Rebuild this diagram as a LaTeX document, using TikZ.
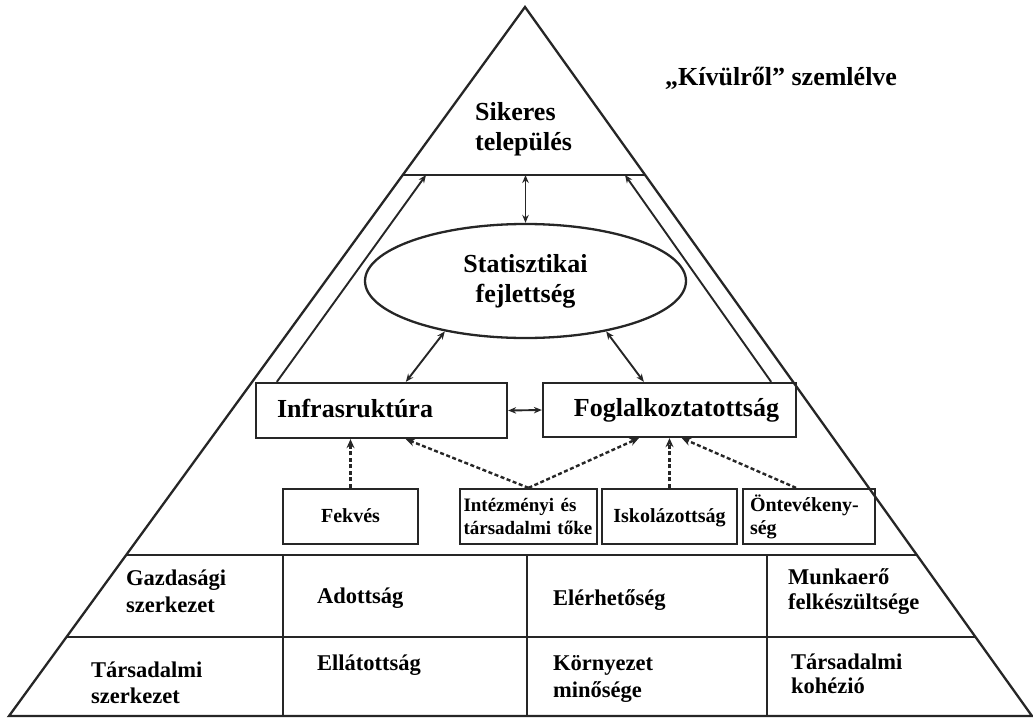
\documentclass[tikz,border=0pt]{standalone}
\usepackage{fontspec}
\setmainfont{Liberation Serif}
\usetikzlibrary{calc,arrows.meta,shapes.geometric}
\begin{document}
\begin{tikzpicture}[x=1pt,y=-1pt,
  ln/.style={draw=black!85,line width=2.3pt},
  box/.style={ln,rectangle,inner ysep=0pt,minimum height=55pt},
  bigf/.style={font=\fontsize{26}{30}\selectfont\bfseries},
  midf/.style={font=\fontsize{22.5}{27}\selectfont\bfseries},
  smlf/.style={font=\fontsize{20}{23}\selectfont\bfseries},
  lbl/.style={anchor=base west,inner sep=0pt},
  arr/.style={draw=black!85,line width=1.9pt,-{Stealth[length=8pt,width=6.5pt]}},
  darr/.style={arr,{Stealth[length=8pt,width=6.5pt]}-{Stealth[length=8pt,width=6.5pt]}},
  dsh/.style={draw=black!85,line width=2.4pt,dash pattern=on 4pt off 2.5pt,-{Stealth[length=9pt,width=8pt]}}
]
\useasboundingbox (0,0) rectangle (1033,720);
% outer pyramid
\coordinate (A) at (525,7);
\coordinate (BL) at (9,716);
\coordinate (BR) at (1032,716);
\draw[ln,line join=miter] (A) -- (BL) -- (BR) -- cycle;
\coordinate (tL) at ($(A)!0.23695!(BL)$);
\coordinate (tR) at ($(A)!0.23695!(BR)$);
\draw[ln] (tL) -- (tR);
\coordinate (r1L) at ($(A)!0.7729!(BL)$);
\coordinate (r1R) at ($(A)!0.7729!(BR)$);
\coordinate (r2L) at ($(A)!0.8886!(BL)$);
\coordinate (r2R) at ($(A)!0.8886!(BR)$);
\draw[ln] (r1L) -- (r1R);
\draw[ln] (r2L) -- (r2R);
\foreach \x in {283,527,767} \draw[ln] (\x,555) -- (\x,716);

% texts top
\node[bigf,lbl] (sik1) at (475,120) {Sikeres};
\node[bigf,lbl] (sik2) at (475,150) {település};
\node[bigf,lbl] (kiv) at (665,85) {„Kívülről” szemlélve};

% ellipse
\node[ellipse,ln,minimum width=321pt,minimum height=114pt,inner sep=0pt,bigf,align=center] (stat) at (525.5,281) {Statisztikai\\fejlettség};

% main boxes
\node[box,bigf,minimum width=251pt,text width=209pt,inner xsep=21pt,align=left,text height=19pt,text depth=6pt] (infra) at (381.5,410.5) {Infrasruktúra};
\node[box,bigf,minimum width=253pt,text width=219pt,inner xsep=17pt,align=right,minimum height=54pt,text height=19pt,text depth=6pt] (fog) at (669.5,410) {Foglalkoztatottság};

% small boxes
\node[box,smlf,text width=125pt,inner xsep=5pt,align=center,text height=15pt,text depth=4pt] (fek) at (350.5,516.5) {Fekvés};
\node[box,font=\fontsize{19}{23}\selectfont\bfseries,text width=130pt,inner xsep=3.5pt,align=left] (int) at (528.5,516.5) {Intézményi és\\társadalmi tőke};
\node[box,smlf,text width=125pt,inner xsep=5pt,align=center,text height=15pt,text depth=4pt] (isk) at (669.5,516.5) {Iskolázottság};
\node[box,smlf,text width=118pt,inner xsep=7pt,align=left] (ont) at (809,516.5) {Öntevékeny-\\ség};

% bottom rows
\node[midf,lbl] (g1) at (126,585) {Gazdasági};
\node[midf,lbl] (g2) at (126,612) {szerkezet};
\node[midf,lbl] (ad) at (317,603) {Adottság};
\node[midf,lbl] (el) at (553,605) {Elérhetőség};
\node[midf,lbl] (m1) at (788,584) {Munkaerő};
\node[midf,lbl] (m2) at (788,609) {felkészültsége};
\node[midf,lbl] (t1) at (91,677) {Társadalmi};
\node[midf,lbl] (t2) at (91,703) {szerkezet};
\node[midf,lbl] (ell) at (317,670) {Ellátottság};
\node[midf,lbl] (k1) at (553,670) {Környezet};
\node[midf,lbl] (k2) at (553,697) {minősége};
\node[midf,lbl] (tk1) at (791,669) {Társadalmi};
\node[midf,lbl] (tk2) at (791,693) {kohézió};

% connectors
\coordinate (tl2) at (426,175);
\coordinate (tr2) at (625,175);
\draw[darr] (stat.north) -- (stat.north |- tL);
\draw[arr] ([xshift=22pt]infra.north west) -- (tl2);
\draw[arr] ([xshift=-26pt]fog.north east) -- (tr2);
\draw[darr] (stat.212) -- ([xshift=151pt]infra.north west);
\draw[darr] (stat.328) -- ([xshift=102pt]fog.north west);
\draw[darr] (infra.east) -- (fog.west);

\draw[dsh] (fek.north) -- (fek.north |- infra.south);
\draw[dsh] (int.north) -- ([xshift=151pt]infra.south west);
\draw[dsh] (int.north) -- ([xshift=97pt]fog.south west);
\draw[dsh] (isk.north) -- (isk.north |- fog.south);
\draw[dsh] ([xshift=-13pt]ont.north) -- ([xshift=140pt]fog.south west);
\end{tikzpicture}
\end{document}
